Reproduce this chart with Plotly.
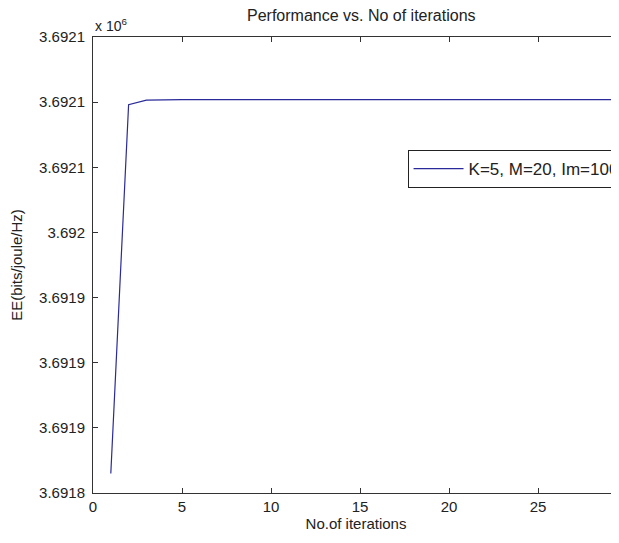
import plotly.graph_objects as go

# Data
iterations = list(range(1, 31))
ee_values = [3691815, 3692098, 3692101.5] + [3692102] * 27
series_name = "K=5, M=20, Im=100"

y_tick_vals = [3691800, 3691850, 3691900, 3691950, 3692000, 3692050, 3692100, 3692150]
y_tick_text = ["3.6918", "3.6919", "3.6919", "3.6919", "3.692", "3.6921", "3.6921", "3.6921"]
x_tick_vals = [0, 5, 10, 15, 20, 25]
x_tick_text = ["0", "5", "10", "15", "20", "25"]

FONT = "Liberation Sans, Arial, sans-serif"
AX = "#333333"
TXT = "#222222"

fig = go.Figure()
fig.add_trace(go.Scatter(
    x=iterations, y=ee_values, mode="lines", name=series_name,
    line=dict(color="#2a2a9a", width=1.2),
))

fig.update_layout(
    width=611, height=535,
    margin=dict(l=85, r=0, t=29, b=50, autoexpand=False),
    paper_bgcolor="white", plot_bgcolor="white",
    font=dict(family=FONT, size=14, color=TXT),
    title=dict(text="Performance vs. No of iterations", x=0.51, xref="paper",
               xanchor="center", y=1 - 7 / 535, yanchor="middle",
               font=dict(family=FONT, size=16, color=TXT)),
    showlegend=True,
    legend=dict(x=0.598, y=0.752, xanchor="left", yanchor="top",
                bgcolor="white", bordercolor="#222", borderwidth=1,
                font=dict(family=FONT, size=17, color=TXT),
                itemwidth=50, tracegroupgap=0),
    xaxis=dict(range=[0, 29.55], tickvals=x_tick_vals, ticktext=x_tick_text,
               ticks="inside", ticklen=5, tickcolor=AX, showline=True,
               linecolor=AX, linewidth=1, mirror="ticks", showgrid=False,
               zeroline=False, tickfont=dict(size=15),
               title=dict(text="No.of iterations", font=dict(size=15), standoff=4)),
    yaxis=dict(range=[3691800, 3692150], tickvals=y_tick_vals, ticktext=y_tick_text,
               ticks="inside", ticklen=5, tickcolor=AX, showline=True,
               linecolor=AX, linewidth=1, mirror=False, showgrid=False,
               zeroline=False, tickfont=dict(size=15), ticklabelstandoff=4,
               title=dict(text="EE(bits/joule/Hz)", font=dict(size=15), standoff=13)),
)

fig.add_annotation(text="x 10<sup>6</sup>", xref="paper", yref="paper",
                   x=0.0, y=1.0, xanchor="left", yanchor="bottom", showarrow=False,
                   font=dict(family=FONT, size=14, color=TXT), yshift=1)

fig.write_html("out.html")
